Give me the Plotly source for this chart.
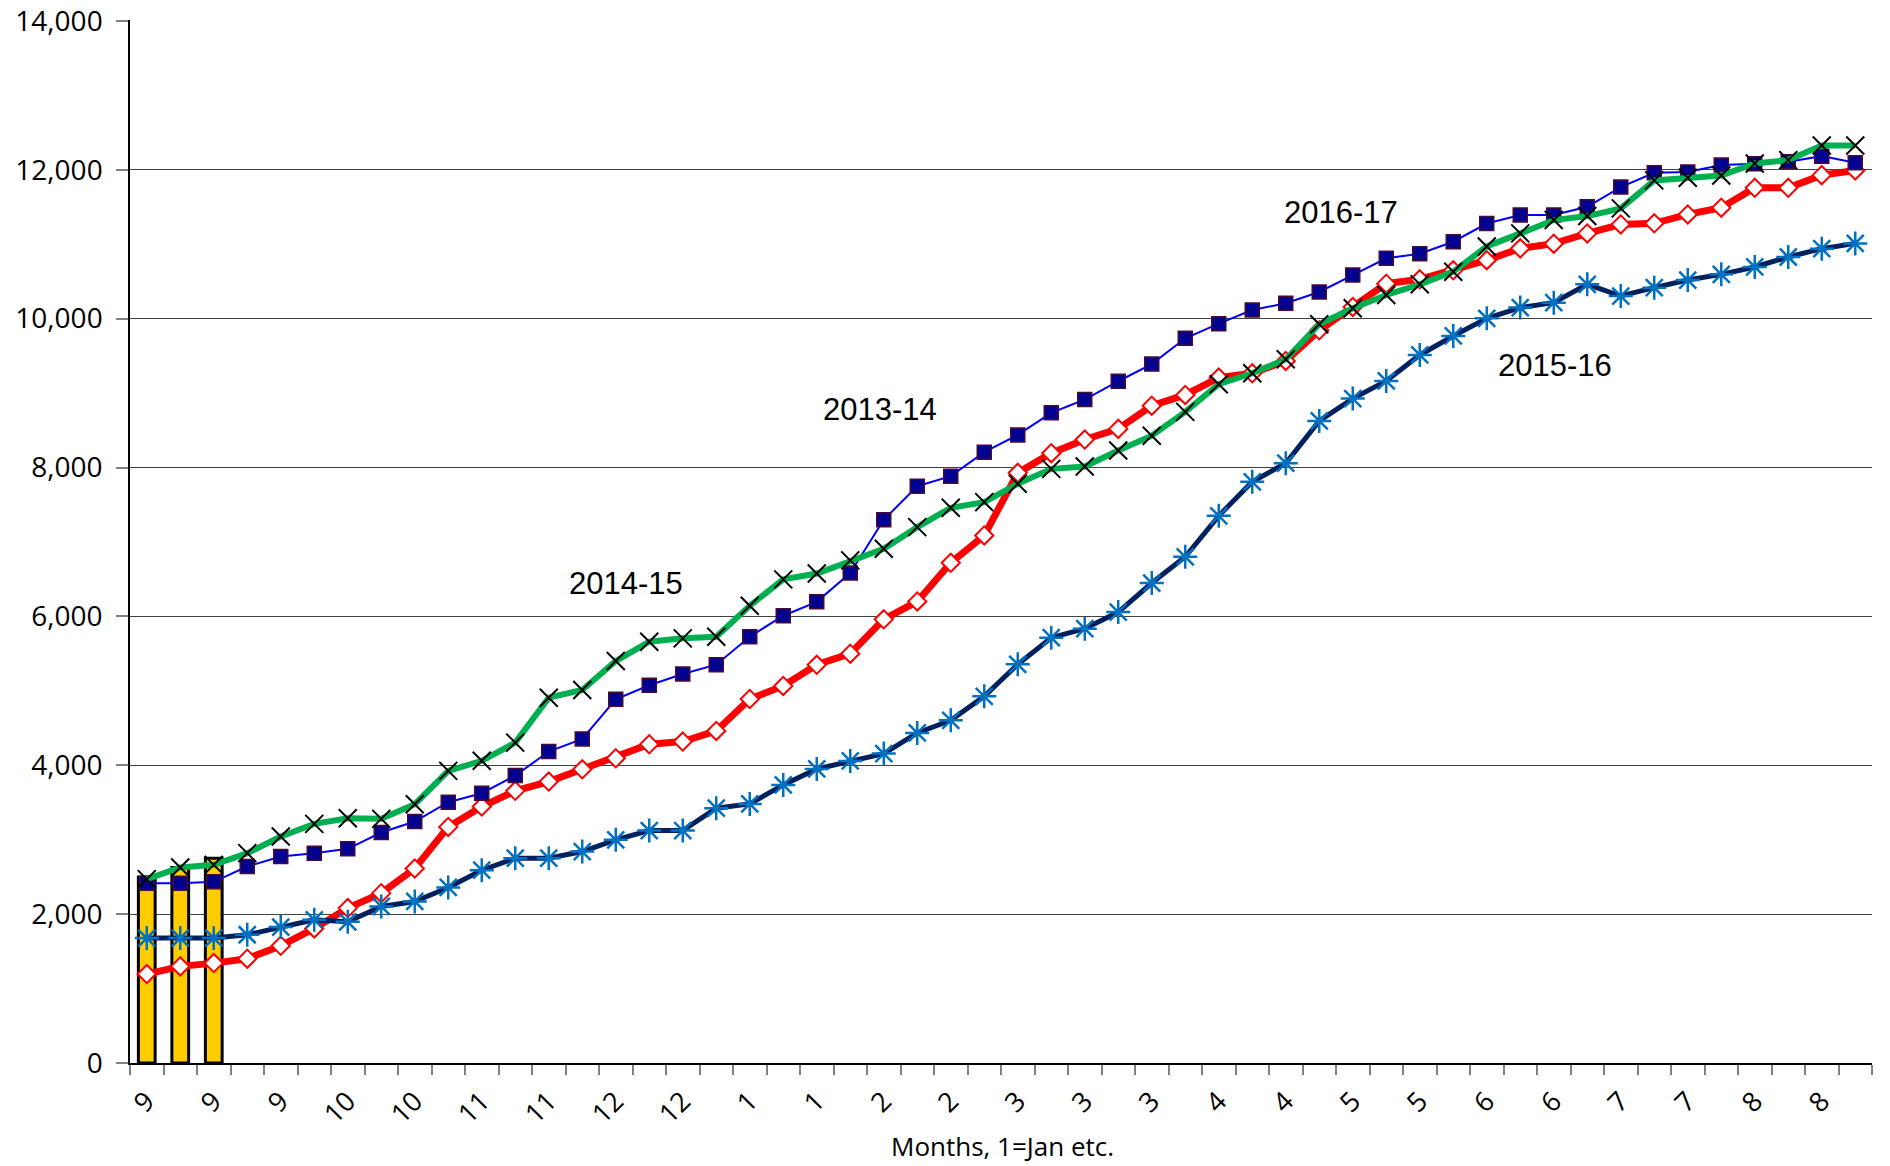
import plotly.graph_objects as go

# ---- data -------------------------------------------------------------
weeks = list(range(52))
months = [9]*5 + [10]*4 + [11]*4 + [12]*5 + [1]*4 + [2]*4 + [3]*5 + [4]*4 + [5]*4 + [6]*5 + [7]*4 + [8]*4

s2013_14 = [2416, 2416, 2434, 2640, 2774, 2819, 2877, 3096, 3244, 3503,
            3624, 3861, 4184, 4354, 4886, 5074, 5226, 5351, 5727, 6009,
            6195, 6582, 7298, 7749, 7884, 8206, 8438, 8734, 8913, 9159,
            9389, 9736, 9933, 10116, 10206, 10358, 10586, 10810, 10872, 11033,
            11278, 11392, 11392, 11503, 11767, 11960, 11969, 12063, 12081, 12107, 12183, 12094]

s2014_15 = [2470, 2627, 2662, 2819, 3043, 3213, 3289, 3280, 3477, 3924,
            4060, 4304, 4908, 5011, 5400, 5660, 5705, 5727, 6143, 6497,
            6575, 6752, 6908, 7199, 7459, 7535, 7781, 7982, 8013, 8228,
            8427, 8747, 9119, 9266, 9454, 9924, 10139, 10318, 10461, 10631,
            10970, 11145, 11324, 11378, 11481, 11857, 11893, 11924, 12085, 12130, 12327, 12327]

s2015_16 = [1678, 1678, 1678, 1723, 1826, 1924, 1897, 2103, 2170, 2358,
            2590, 2752, 2752, 2841, 2998, 3123, 3123, 3423, 3481, 3736,
            3950, 4058, 4157, 4434, 4604, 4926, 5356, 5714, 5835, 6058,
            6448, 6801, 7351, 7808, 8058, 8626, 8926, 9163, 9512, 9767,
            10004, 10148, 10215, 10461, 10304, 10416, 10519, 10595, 10694, 10828, 10940, 11011]

s2016_17 = [1195, 1298, 1342, 1401, 1575, 1808, 2081, 2282, 2613, 3172,
            3445, 3656, 3781, 3946, 4094, 4282, 4318, 4461, 4890, 5065,
            5350, 5499, 5960, 6201, 6720, 7087, 7928, 8192, 8376, 8519,
            8830, 8975, 9208, 9266, 9432, 9843, 10157, 10470, 10528, 10649,
            10785, 10944, 11007, 11145, 11266, 11280, 11400, 11490, 11758, 11758, 11928, 11991]

bar_weeks = [0, 1, 2]
bar_values = [2500, 2625, 2750]

tick_weeks = weeks[::2]
tick_text = [str(m) for m in months[::2]]

y_ticks = [0, 2000, 4000, 6000, 8000, 10000, 12000, 14000]

series_labels = ["2013-14", "2014-15", "2015-16", "2016-17"]
label_x = [21.9, 14.3, 42.05, 35.65]
label_y = [8781, 6442, 9371, 11429]

# ---- figure -----------------------------------------------------------
FONT = "Open Sans, sans-serif"
ARIAL = "Liberation Sans, Arial, sans-serif"

fig = go.Figure()

fig.add_trace(go.Bar(
    x=bar_weeks, y=bar_values, width=0.5,
    marker=dict(color="#FFCC00", line=dict(color="black", width=3)),
    showlegend=False, name="2017-18"))

fig.add_trace(go.Scatter(
    x=weeks, y=s2016_17, mode="lines+markers", name="2016-17",
    line=dict(color="#FF0000", width=7),
    marker=dict(symbol="diamond", size=14, color="white",
                line=dict(color="#FF0000", width=2)),
    showlegend=False))

fig.add_trace(go.Scatter(
    x=weeks, y=s2015_16, mode="lines+markers", name="2015-16",
    line=dict(color="#002060", width=5),
    marker=dict(symbol="asterisk-open", size=20, color="#0070C0",
                line=dict(color="#0070C0", width=2.5)),
    showlegend=False))

fig.add_trace(go.Scatter(
    x=weeks, y=s2013_14, mode="lines+markers", name="2013-14",
    line=dict(color="#0000FF", width=2),
    marker=dict(symbol="square", size=14, color="#000090",
                line=dict(color="#4B0A36", width=1.5)),
    showlegend=False))

fig.add_trace(go.Scatter(
    x=weeks, y=s2014_15, mode="lines+markers", name="2014-15",
    line=dict(color="#00B050", width=6),
    marker=dict(symbol="x-thin", size=18, color="black",
                line=dict(color="black", width=2)),
    showlegend=False))

for t, xx, yy in zip(series_labels, label_x, label_y):
    fig.add_annotation(x=xx, y=yy, text=t, showarrow=False,
                       font=dict(family=ARIAL, size=31, color="black"),
                       xanchor="center", yanchor="middle")

fig.add_annotation(x=0.501, y=-0.0985, xref="paper", yref="paper",
                   text="Months, 1=Jan etc.", showarrow=False,
                   font=dict(family=FONT, size=26, color="black"),
                   xanchor="center", yanchor="bottom")

fig.update_layout(
    width=1890, height=1166,
    margin=dict(l=130, r=18, t=20, b=103),
    plot_bgcolor="white", paper_bgcolor="white",
    xaxis=dict(
        range=[-0.5, 51.5], showgrid=False, zeroline=False, automargin=False,
        showline=True, linecolor="black", linewidth=1.5,
        tickmode="array", tickvals=tick_weeks, ticktext=tick_text,
        ticks="", tickangle=-45, ticklabelstandoff=10,
        tickfont=dict(family=FONT, size=27, color="black"),
        minor=dict(tickmode="linear", tick0=-0.5, dtick=1, ticks="outside",
                   ticklen=10, tickcolor="#808080", tickwidth=1.5, showgrid=False),
    ),
    yaxis=dict(
        range=[0, 14012], tickmode="array", tickvals=y_ticks,
        tickformat=",", automargin=False, ticklabeloverflow="allow",
        showgrid=True, gridcolor="#404040", gridwidth=1,
        zeroline=False, showline=True, linecolor="black", linewidth=1.5,
        ticks="outside", ticklen=12, tickcolor="#808080", tickwidth=1.5,
        ticklabelstandoff=8,
        tickfont=dict(family=FONT, size=28, color="black"),
    ),
)

# remove the default 8px page margin so the figure fills the window exactly
fig.write_html("out.html",
               config={"displayModeBar": False},
               post_script="document.body.style.margin='0';document.body.style.overflow='hidden';")
